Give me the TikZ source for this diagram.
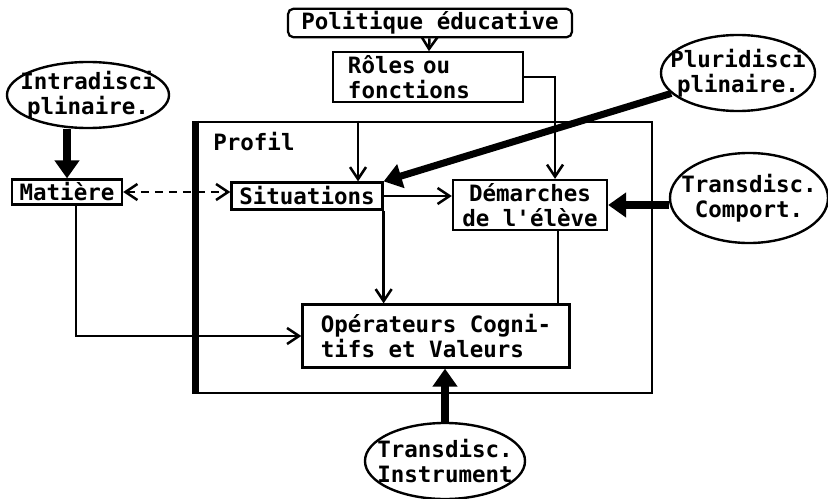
\documentclass[tikz,border=0pt]{standalone}
\usepackage{fontspec}
\setmonofont{DejaVu Sans Mono}
\usepackage{tikz}
\usetikzlibrary{arrows.meta,positioning,shapes.geometric}
\tikzset{
  % plain boxes and bubbles, typewriter text
  box/.style    = {rectangle, draw, fill=white, line width=1.6pt, inner sep=2pt,
                   align=center, font=\ttfamily\bfseries\fontsize{16}{18}\selectfont},
  bubble/.style = {ellipse, draw, fill=white, line width=1.7pt, inner xsep=-3.5mm,
                   inner ysep=-1mm, align=center, font=\ttfamily\bfseries\fontsize{16}{18}\selectfont},
  frame/.style  = {rectangle, draw, line width=2pt, inner sep=0pt},
  tag/.style    = {font=\ttfamily\bfseries\fontsize{16}{18}\selectfont, inner sep=0pt},
  arr/.style    = {-{Straight Barb[length=3mm,width=4mm]}, line width=1.8pt},
  fat/.style    = {-{Triangle[length=4.5mm,width=6mm]}, line width=5pt},
  dasharr/.style = {{Straight Barb[length=3mm,width=4mm]}-{Straight Barb[length=3mm,width=4mm]},
                   line width=1.8pt, dash pattern=on 6pt off 4pt},
  link/.style   = {line width=1.8pt},
}
\begin{document}
\begin{tikzpicture}[x=0.025cm,y=-0.025cm]
\useasboundingbox (0,0) rectangle (828,499);
% frame of the profile
\node[frame, minimum width=11.375cm, minimum height=6.775cm] (profil) at (424.5,257.5) {};
\draw[line width=4.5pt] (profil.north west) -- (profil.south west);
\node[tag, anchor=west] (profiltxt) at (213,142) {Profil};
% boxes
\node[box, rounded corners=4pt, minimum width=7.1cm, minimum height=0.55cm] (pol) at (430,23) {Politique éducative};
\node[box, align=left, text width=4cm, inner xsep=0.375cm, minimum height=1.175cm] (roles) at (428,77) {Rôles ou\\fonctions};
\node[box, minimum width=2.75cm, minimum height=0.625cm] (matiere) at (67,192) {Matière};
\node[box, minimum width=3.775cm, minimum height=0.675cm] (sit) at (307,196) {Situations};
\node[box, minimum width=3.85cm, minimum height=1.25cm] (dem) at (530,205) {Démarches\\de l'élève};
\node[box, align=left, minimum width=6.675cm, minimum height=1.575cm] (oper) at (436,336) {Opérateurs Cogni-\\tifs et Valeurs};
% bubbles
\node[bubble, minimum width=4.05cm, minimum height=1.65cm] (intra) at (88,95) {Intradisci\\plinaire.};
\node[bubble, minimum width=3.85cm, minimum height=1.9cm] (pluri) at (738,73) {Pluridisci\\plinaire.};
\node[bubble, minimum width=3.95cm, minimum height=2.25cm] (comport) at (749,198) {Transdisc.\\Comport.};
\node[bubble, minimum width=4cm, minimum height=1.9cm] (instr) at (445,461) {Transdisc.\\Instrument};
% thin links
\draw[arr] (pol) -- (roles);
\draw[arr] (roles.east) -| ([xshift=6.25mm]dem.north);
\draw[arr] ([xshift=12.75mm]sit.north |- profil.north) -- ([xshift=12.75mm]sit.north);
\draw[arr] (sit.east) -- (sit.east -| dem.west);
\draw[arr] (sit.south east) -- (sit.south east |- oper.north);
\draw[link] ([xshift=7mm]dem.south) -- ([xshift=7mm]dem.south |- oper.north);
\draw[dasharr] (matiere.east) -- (matiere.east -| sit.west);
\draw[arr] ([xshift=2.25mm]matiere.south) |- (oper.west);
% heavy links
\draw[fat] (matiere.north |- intra.south) -- (matiere.north);
\draw[fat] (pluri) -- (sit.north east);
\draw[fat] (dem.east -| comport.west) -- (dem.east);
\draw[fat] (instr) -- (instr |- oper.south);
\end{tikzpicture}
\end{document}
